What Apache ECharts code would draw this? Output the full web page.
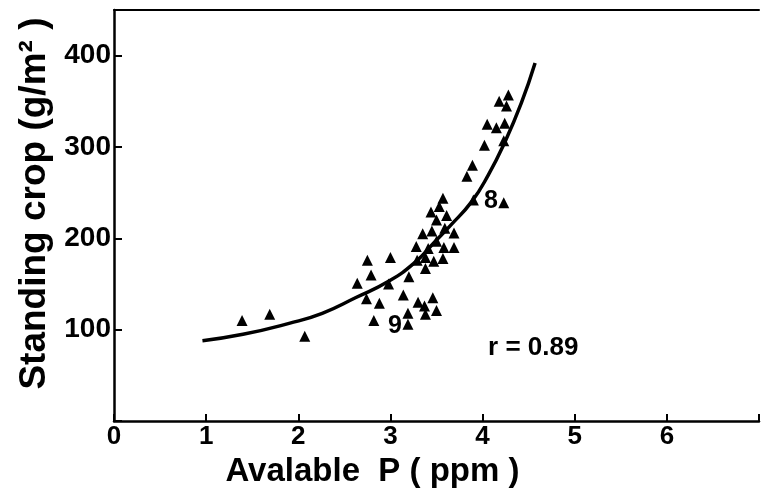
<!DOCTYPE html>
<html>
<head>
<meta charset="utf-8">
<script src="https://cdn.jsdelivr.net/npm/echarts@6/dist/echarts.min.js"></script>
<style>
  html, body { margin: 0; padding: 0; background: #fff; }
  #chart { width: 762px; height: 493px; }
</style>
</head>
<body>
<div id="chart"></div>
<script>
// observed points: [available P (ppm), standing crop (g/m2)]
const obsPoints = [
  [1.39, 110], [1.69, 117], [2.07, 93], [2.64, 151], [2.75, 176], [2.79, 160],
  [2.74, 134], [2.82, 110], [2.88, 129], [3.00, 179], [2.98, 150], [3.14, 138],
  [3.20, 158], [3.19, 118], [3.19, 106], [3.30, 130], [3.37, 126], [3.38, 117],
  [3.46, 135], [3.50, 121], [3.29, 176], [3.38, 179], [3.47, 175], [3.57, 178],
  [3.38, 167], [3.28, 191], [3.41, 189], [3.58, 190], [3.69, 190], [3.50, 197],
  [3.35, 205], [3.45, 208], [3.59, 211], [3.69, 206], [3.50, 220], [3.61, 225],
  [3.44, 229], [3.53, 235], [3.57, 244], [3.90, 242], [4.23, 239], [3.83, 268],
  [3.89, 280], [4.02, 302], [4.05, 325], [4.15, 321], [4.24, 326], [4.23, 307],
  [4.18, 350], [4.26, 345], [4.28, 357]
];

// fitted curve
const curvePoints = [
  [0.96, 88], [1.4, 95], [1.9, 107], [2.26, 118], [2.62, 135], [2.98, 153],
  [3.27, 174], [3.48, 196], [3.65, 214], [3.88, 240], [4.06, 269], [4.24, 305],
  [4.42, 348], [4.57, 392]
];

// point tags and the correlation note
const tagPoints = [[3.05, 104, '9'], [4.09, 241, '8']];
const noteText = [[4.06, 80, 'r = 0.89']];

const xTicks = ['0', '1', '2', '3', '4', '5', '6'];
const yTicks = ['100', '200', '300', '400'];

const font = 'Liberation Sans, Arial, sans-serif';
const chart = echarts.init(document.getElementById('chart'));

chart.setOption({
  animation: false,
  grid: { left: 114, right: 0, top: 10, bottom: 69 },
  xAxis: [
    {
      type: 'value', min: 0, max: 7, interval: 1,
      name: 'Avalable  P ( ppm )', nameLocation: 'middle', nameGap: 23,
      nameTextStyle: { fontFamily: font, fontSize: 33, fontWeight: 'bold', color: '#000', padding: [0, 128, 0, 0] },
      axisLine: { lineStyle: { color: '#000', width: 2.5 } },
      axisTick: { inside: true, length: 7, lineStyle: { color: '#000', width: 2 } },
      axisLabel: {
        fontFamily: font, fontSize: 26, fontWeight: 'bold', color: '#000', margin: 3,
        formatter: v => xTicks.indexOf(String(v)) >= 0 ? String(v) : ''
      },
      splitLine: { show: false }
    },
    {
      type: 'value', position: 'top', min: 0, max: 7,
      axisLine: { show: true, lineStyle: { color: '#000', width: 2 } },
      axisTick: { show: false }, axisLabel: { show: false }, splitLine: { show: false }
    }
  ],
  yAxis: {
    type: 'value', min: 0, max: 450, interval: 100,
    name: 'Standing crop (g/m\u00B2 )', nameLocation: 'middle', nameGap: 60, nameRotate: 90,
    nameTextStyle: { fontFamily: font, fontSize: 37, fontWeight: 'bold', color: '#000', padding: [0, 0, 0, 24] },
    axisLine: { show: true, lineStyle: { color: '#000', width: 2.5 } },
    axisTick: { inside: true, length: 8, lineStyle: { color: '#000', width: 2 } },
    axisLabel: {
      fontFamily: font, fontSize: 28, fontWeight: 'bold', color: '#000', margin: 3,
      formatter: v => yTicks.indexOf(String(v)) >= 0 ? String(v) : ''
    },
    splitLine: { show: false }
  },
  series: [
    {
      type: 'line', data: curvePoints, smooth: true, showSymbol: false,
      lineStyle: { color: '#000', width: 3.5 }
    },
    {
      type: 'scatter', data: obsPoints, symbol: 'triangle', symbolSize: 11,
      itemStyle: { color: '#000', opacity: 1 }
    },
    {
      type: 'scatter', data: tagPoints, symbolSize: 0,
      itemStyle: { opacity: 1 },
      label: {
        show: true, position: 'inside', formatter: p => p.data[2],
        fontFamily: font, fontSize: 25, fontWeight: 'bold', color: '#000'
      }
    },
    {
      type: 'scatter', data: noteText, symbolSize: 0,
      itemStyle: { opacity: 1 },
      label: {
        show: true, position: 'right', distance: 0, formatter: p => p.data[2],
        fontFamily: font, fontSize: 26, fontWeight: 'bold', color: '#000'
      }
    }
  ]
});
</script>
</body>
</html>
